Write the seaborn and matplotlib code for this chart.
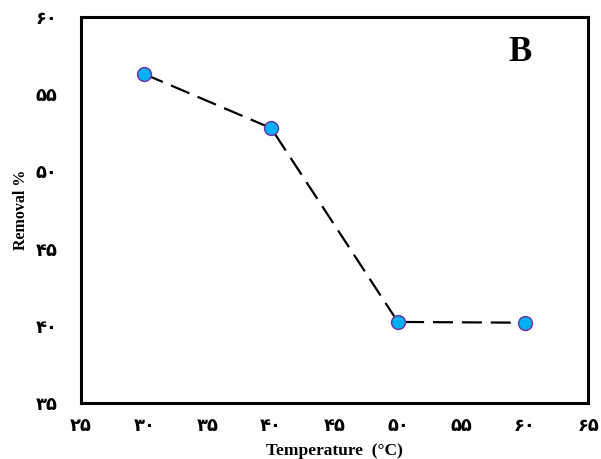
import matplotlib
matplotlib.use("Agg")
import matplotlib.pyplot as plt
import pandas as pd
import seaborn as sns

# Data
temperature = [30, 40, 50, 60]
removal = [56.3, 52.8, 40.25, 40.2]

x_ticks = [25, 30, 35, 40, 45, 50, 55, 60, 65]
y_ticks = [35, 40, 45, 50, 55, 60]

persian_digits = str.maketrans("0123456789", "۰۱۲۳۴۵۶۷۸۹")


def to_persian(v):
    return str(v).translate(persian_digits)


df = pd.DataFrame({"Temperature": temperature, "Removal": removal})

sns.set_style("white")
plt.rcParams["font.family"] = ["Liberation Serif", "DejaVu Sans"]
plt.rcParams["text.color"] = "black"
plt.rcParams["axes.labelcolor"] = "black"

fig = plt.figure(figsize=(6.01, 4.59), dpi=100)
ax = fig.add_axes([0.1348, 0.122, 0.8436, 0.841])

sns.lineplot(data=df, x="Temperature", y="Removal", ax=ax,
             color="black", linewidth=1.6, linestyle=(0, (9, 4)),
             marker="o", markersize=10, markerfacecolor="#00B0F0",
             markeredgecolor="#7030A0", markeredgewidth=1.0)

ax.set_xlim(25, 65)
ax.set_ylim(35, 60)
ax.set_xticks(x_ticks)
ax.set_yticks(y_ticks)
ax.set_xticklabels([to_persian(t) for t in x_ticks], fontfamily="DejaVu Sans",
                   fontweight="bold", fontsize=13)
ax.set_yticklabels([to_persian(t) for t in y_ticks], fontfamily="DejaVu Sans",
                   fontweight="bold", fontsize=13)
ax.tick_params(direction="in", length=4, width=1.2, colors="black")
ax.tick_params(axis="x", pad=10)
ax.tick_params(axis="y", pad=17)

for s in ax.spines.values():
    s.set_linewidth(2.2)
    s.set_color("black")

ax.set_xlabel("Temperature  (°C)", fontsize=12.5, fontweight="bold", labelpad=6)
ax.set_ylabel("Removal %", fontsize=11.5, fontweight="bold", labelpad=5)
ax.text(0.866, 0.907, "B", transform=ax.transAxes, fontsize=25,
        fontweight="bold", ha="center", va="center")

fig.savefig("out.png", dpi=100)
